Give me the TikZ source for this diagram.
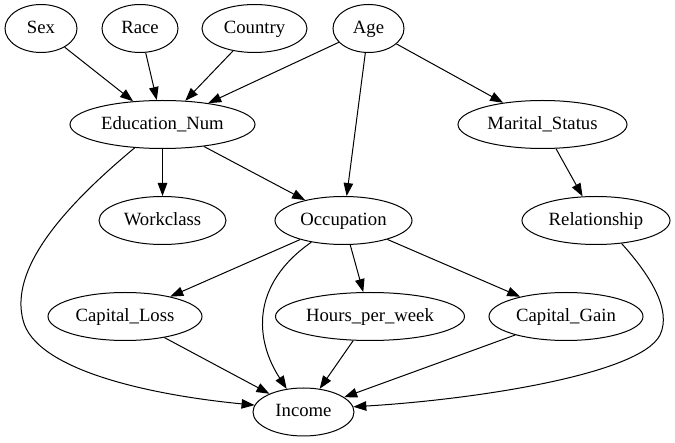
\documentclass[tikz,border=0pt]{standalone}
\usepackage{fontspec}
\setmainfont{Liberation Serif}
\usetikzlibrary{shapes.geometric,arrows.meta}
\tikzset{
  var/.style={draw, ellipse, line width=1pt, inner sep=0pt, minimum height=48pt,
    text height=12.5pt, text depth=2.5pt,
    font=\rmfamily\fontsize{18.7}{20}\selectfont},
  edge/.style={line width=1pt, -{Triangle[length=13pt,width=9.5pt]}}
}
\begin{document}
\begin{tikzpicture}[x=1pt,y=-1pt]
\useasboundingbox (0,0) rectangle (675,443);
\node[var, minimum width=72pt]  (sex)  at (41,28.5)   {Sex};
\node[var, minimum width=76pt]  (race) at (140,28.5)  {Race};
\node[var, minimum width=105pt] (country) at (254.5,28.5) {Country};
\node[var, minimum width=71pt]  (age)  at (368.5,28.5) {Age};
\node[var, minimum width=185pt] (edu)  at (162.5,124.5) {Education\_Num};
\node[var, minimum width=169pt] (mar)  at (542.5,124.5) {Marital\_Status};
\node[var, minimum width=127pt] (work) at (162.5,220.5) {Workclass};
\node[var, minimum width=137pt] (occ)  at (343.5,220.5) {Occupation};
\node[var, minimum width=148pt] (rel)  at (596,220.5) {Relationship};
\node[var, minimum width=154pt] (loss) at (125,316.5) {Capital\_Loss};
\node[var, minimum width=189pt] (hours) at (370,316.5) {Hours\_per\_week};
\node[var, minimum width=154pt] (gain) at (566,316.5) {Capital\_Gain};
\node[var, minimum width=101pt] (inc)  at (303.5,412) {Income};

\draw[edge] (sex) -- (edu);
\draw[edge] (race) -- (edu);
\draw[edge] (country) -- (edu);
\draw[edge] (age) -- (edu);
\draw[edge] (age) -- (occ);
\draw[edge] (age) -- (mar);
\draw[edge] (edu) -- (work);
\draw[edge] (edu) -- (occ);
\draw[edge] (mar) -- (rel);
\draw[edge] (occ) -- (loss);
\draw[edge] (occ) -- (hours);
\draw[edge] (occ) -- (gain);
\draw[edge] (loss) -- (inc);
\draw[edge] (hours) -- (inc);
\draw[edge] (gain) -- (inc);
\draw[edge] (edu.220) .. controls (60,210) and (10,270) .. (23,320)
  .. controls (35,370) and (150,395) .. (inc.172);
\draw[edge] (occ.214) .. controls (250,285) and (255,340) .. (inc.126);
\draw[edge] (rel.-42) .. controls (650,275) and (672,310) .. (660,335)
  .. controls (640,375) and (470,400) .. (inc.6);
\end{tikzpicture}
\end{document}
